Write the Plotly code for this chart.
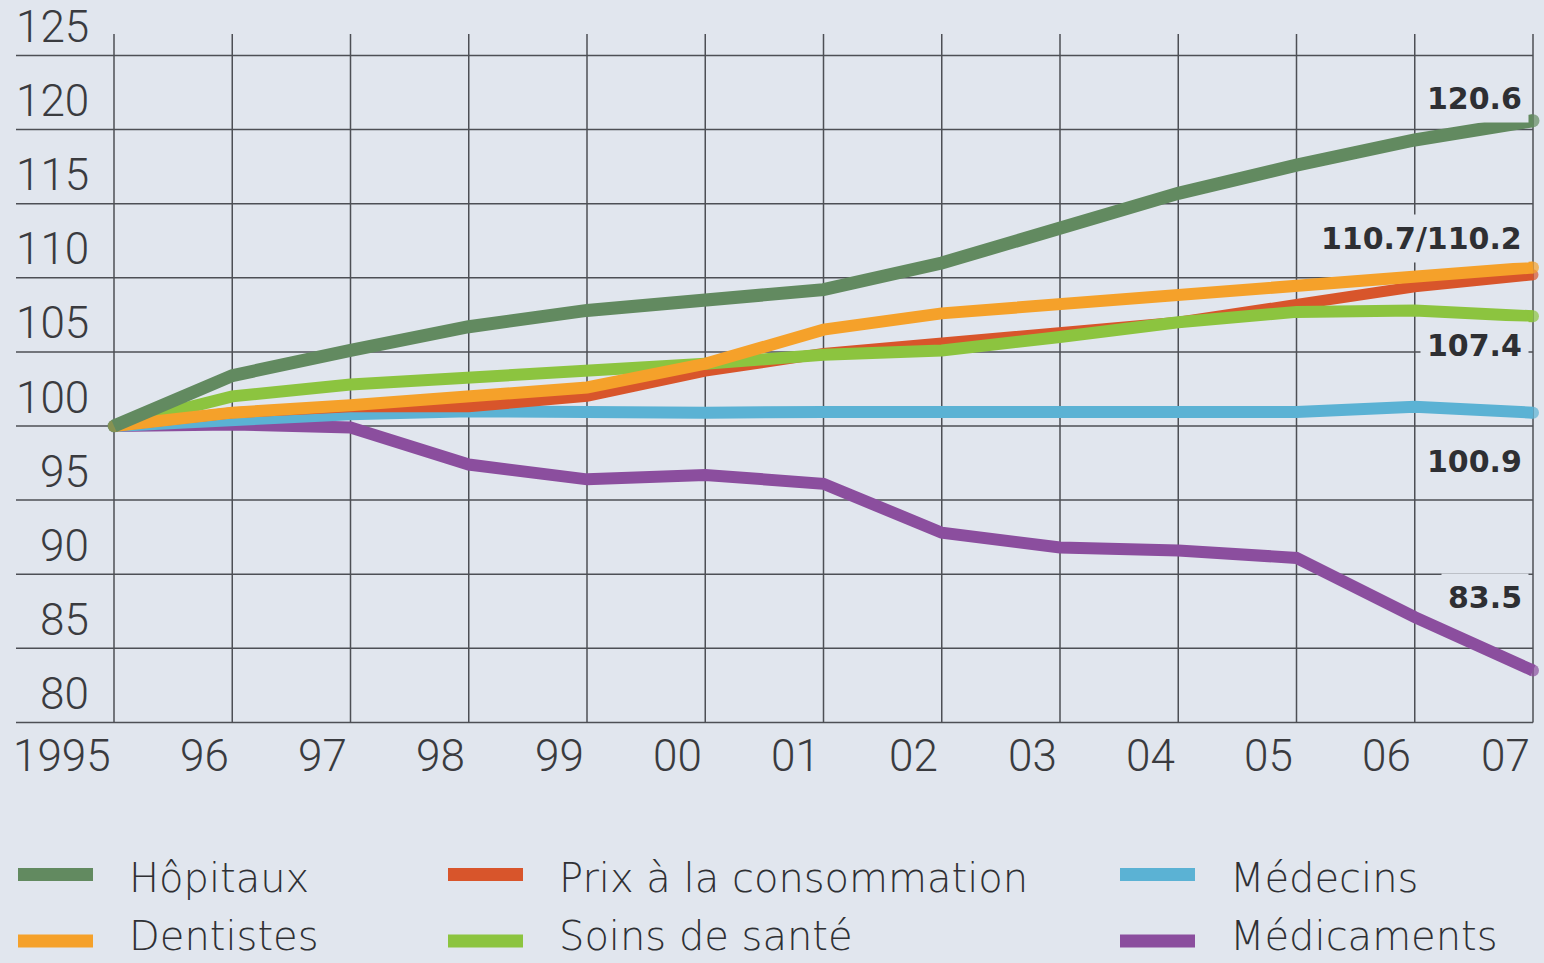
import plotly.graph_objects as go

# Index 1995 = 100
years = [1995, 1996, 1997, 1998, 1999, 2000, 2001, 2002, 2003, 2004, 2005, 2006, 2007]
year_labels = ["1995", "96", "97", "98", "99", "00", "01", "02", "03", "04", "05", "06", "07"]

hopitaux = [100.0, 103.4, 105.1, 106.7, 107.8, 108.4, 109.2, 111.0, 113.4, 115.7, 117.6, 119.3, 120.6]
dentistes = [100.0, 100.9, 101.4, 102.0, 102.6, 104.2, 106.5, 107.6, 108.2, 108.8, 109.4, 110.1, 110.7]
prix_conso = [100.0, 100.9, 101.3, 101.3, 102.0, 103.7, 104.9, 105.6, 106.2, 107.0, 108.2, 109.4, 110.2]
soins_sante = [100.0, 102.0, 102.8, 103.2, 103.6, 104.2, 104.8, 105.1, 106.0, 107.0, 107.7, 107.8, 107.4]
medecins = [100.0, 100.5, 100.8, 101.0, 100.9, 100.9, 100.95, 100.95, 100.95, 100.95, 100.95, 101.3, 100.9]
medicaments = [100.0, 100.1, 99.9, 97.4, 96.4, 96.7, 96.1, 92.8, 91.8, 91.6, 91.1, 87.1, 83.5]

y_ticks = [80, 85, 90, 95, 100, 105, 110, 115, 120, 125]

# name, values, colour, width (drawn bottom to top)
series = [
    ("Médicaments", medicaments, "#8b4e9e", 12),
    ("Médecins", medecins, "#5bb2d4", 12),
    ("Prix à la consommation", prix_conso, "#d8552b", 11),
    ("Soins de santé", soins_sante, "#8cc43f", 12),
    ("Dentistes", dentistes, "#f5a12a", 12),
    ("Hôpitaux", hopitaux, "#628a60", 13),
]

# end-of-line value labels: text, anchor value, vertical offset
end_labels = [
    ("120.6", hopitaux[-1], 1.5),
    ("110.7/110.2", dentistes[-1], 1.95),
    ("107.4", soins_sante[-1], -1.95),
    ("100.9", medecins[-1], -3.3),
    ("83.5", medicaments[-1], 4.9),
]

# legend layout: (name, colour, column x px, row)
legend_items = [
    ("Hôpitaux", "#628a60", 18, 0),
    ("Dentistes", "#f5a12a", 18, 1),
    ("Prix à la consommation", "#d8552b", 448, 0),
    ("Soins de santé", "#8cc43f", 448, 1),
    ("Médecins", "#5bb2d4", 1120, 0),
    ("Médicaments", "#8b4e9e", 1120, 1),
]

W, H = 1544, 963
BG = "#e1e6ee"
GRID = "#4d4f55"
TEXT = "#3a3b3f"

# pixel geometry of the plotting grid
x0_px, x_step = 114.0, 118.25      # px of 1995, px per year
y100_px, y_step = 426.0, 14.82     # px of 100, px per index point

x_range = [years[0] - x0_px / x_step, years[-1] + (W - (x0_px + 12 * x_step)) / x_step]
y_range = [100 - (H - y100_px) / y_step, 100 + y100_px / y_step]

fig = go.Figure()

for name, vals, col, lw in series:
    n = len(vals)
    fig.add_trace(go.Scatter(
        x=years, y=vals, name=name, mode="lines+markers",
        line=dict(color=col, width=lw),
        marker=dict(color=col, size=[lw] + [0] * (n - 2) + [lw], line=dict(width=0)),
        showlegend=False, hoverinfo="skip",
    ))

shapes = []
grid_left = years[0] - (x0_px - 16) / x_step
grid_top = 100 + (y100_px - 34) / y_step
for v in y_ticks:
    shapes.append(dict(type="line", xref="x", yref="y", x0=grid_left, x1=years[-1], y0=v, y1=v,
                       line=dict(color=GRID, width=1.5), layer="below"))
for yr in years:
    shapes.append(dict(type="line", xref="x", yref="y", x0=yr, x1=yr, y0=y_ticks[0], y1=grid_top,
                       line=dict(color=GRID, width=1.5), layer="below"))

annotations = []
label_font = dict(family="Roboto, Lato, Liberation Sans, sans-serif", size=44, color=TEXT, weight=300)
ytick_x = years[0] - (x0_px - 91) / x_step
for v in y_ticks:
    annotations.append(dict(x=ytick_x, y=v + 1.92, xref="x", yref="y", text=str(v), showarrow=False,
                            xanchor="right", yanchor="middle", font=label_font))
xtick_y = 100 - (756 - y100_px) / y_step
for yr, lab in zip(years, year_labels):
    annotations.append(dict(x=yr - 1.5 / x_step, y=xtick_y, xref="x", yref="y", text=lab, showarrow=False,
                            xanchor="right", yanchor="middle", font=label_font))

for txt, val, off in end_labels:
    annotations.append(dict(x=years[-1] - 4 / x_step, y=val + off, xref="x", yref="y", text=txt,
                            showarrow=False, xanchor="right", yanchor="middle",
                            bgcolor=BG, borderpad=6,
                            font=dict(family="DejaVu Sans, sans-serif", size=30, color="#2e2f33", weight="bold")))

legend_rows = [874.5, 941.0]
legend_text_rows = [878.0, 936.0]
text_offsets = {18: 127, 448: 557, 1120: 1228}
for name, col, cx, row in legend_items:
    cy = legend_rows[row]
    shapes.append(dict(type="rect", xref="paper", yref="paper",
                       x0=cx / W, x1=(cx + 75) / W, y0=1 - (cy + 6.5) / H, y1=1 - (cy - 6.5) / H,
                       fillcolor=col, line=dict(width=0)))
    annotations.append(dict(x=text_offsets[cx] / W, y=1 - legend_text_rows[row] / H, xref="paper", yref="paper",
                            text=name, showarrow=False, xanchor="left", yanchor="middle",
                            font=dict(family="DejaVu Sans, Open Sans, sans-serif", size=40,
                                      color="#2f3034", weight=200)))

fig.update_layout(
    width=W, height=H, autosize=False,
    margin=dict(l=0, r=0, t=0, b=0, pad=0),
    paper_bgcolor=BG, plot_bgcolor=BG,
    xaxis=dict(range=x_range, visible=False, fixedrange=True),
    yaxis=dict(range=y_range, visible=False, fixedrange=True),
    shapes=shapes, annotations=annotations,
    showlegend=False,
)

fig.write_html("out.html", config={"displayModeBar": False})
